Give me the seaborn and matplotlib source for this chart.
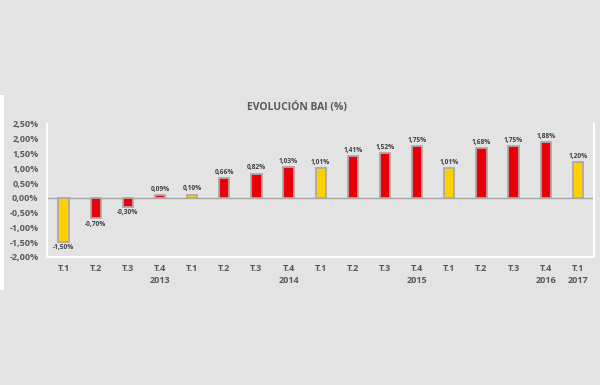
import pandas as pd
import matplotlib.pyplot as plt
import matplotlib.patches as mpatches
import seaborn as sns

# Datos del gráfico
trimestres = ['T.1', 'T.2', 'T.3', 'T.4', 'T.1', 'T.2', 'T.3', 'T.4', 'T.1',
              'T.2', 'T.3', 'T.4', 'T.1', 'T.2', 'T.3', 'T.4', 'T.1']
anios = ['', '', '', '2013', '', '', '', '2014', '', '', '', '2015',
         '', '', '', '2016', '2017']
bai = [-1.50, -0.70, -0.30, 0.09, 0.10, 0.66, 0.82, 1.03, 1.01,
       1.41, 1.52, 1.75, 1.01, 1.68, 1.75, 1.88, 1.20]

df = pd.DataFrame({'pos': range(len(bai)), 'bai': bai, 'trim': trimestres})
df['tipo'] = df['trim'].apply(lambda t: 'T1' if t == 'T.1' else 'resto')

fondo = '#e3e3e3'
texto = '#595959'

sns.set_theme(style='white')
plt.rcParams['font.family'] = ['Open Sans', 'DejaVu Sans']

fig = plt.figure(figsize=(6, 3.85), dpi=100, facecolor=fondo)
ax = fig.add_axes([0.078, 0.333, 0.912, 0.345])
ax.set_facecolor(fondo)

# franja blanca a la izquierda
fig.patches.append(mpatches.Rectangle((0, 0.247), 0.007, 0.506, transform=fig.transFigure,
                                      facecolor='white', edgecolor='none', zorder=0))

sns.barplot(data=df, x='pos', y='bai', hue='tipo', dodge=False, legend=False,
            palette={'T1': '#ffd000', 'resto': '#e8000b'}, saturation=1, width=0.32,
            edgecolor='#b0a8a8', linewidth=1.3, ax=ax, zorder=3)

ax.axhline(0, color='#a6a6a6', lw=1.0, zorder=2)

for i, v in enumerate(bai):
    etiqueta = f'{v:.2f}%'.replace('.', ',')
    if v >= 0:
        ax.text(i, v + 0.08, etiqueta, ha='center', va='bottom', fontsize=4.8,
                color='#404040', fontweight='bold')
    else:
        ax.text(i, v - 0.08, etiqueta, ha='center', va='top', fontsize=4.8,
                color='#404040', fontweight='bold')

ax.set_xlim(-0.52, 16.5)
ax.set_ylim(-2.0, 2.5)
ax.set_yticks([-2.0, -1.5, -1.0, -0.5, 0, 0.5, 1.0, 1.5, 2.0, 2.5])
ax.set_yticklabels([f'{t:.2f}%'.replace('.', ',') for t in ax.get_yticks()],
                   fontsize=6.5, color=texto, fontweight='bold')
ax.set_xticks(range(len(bai)))
ax.set_xticklabels([t if a == '' else f'{t}\n{a}' for t, a in zip(trimestres, anios)],
                   fontsize=6.5, color=texto, fontweight='bold', linespacing=1.4, va='top')
ax.tick_params(axis='both', length=0)
ax.tick_params(axis='x', pad=5)
ax.tick_params(axis='y', pad=6)
ax.set_xlabel('')
ax.set_ylabel('')

for lado in ['left', 'bottom', 'right']:
    ax.spines[lado].set_color('white')
    ax.spines[lado].set_linewidth(1.5)
ax.spines['top'].set_visible(False)

fig.text(0.495, 0.722, 'EVOLUCIÓN BAI (%)', ha='center', va='center', fontsize=7.5,
         color=texto, fontweight='bold')

plt.savefig('out.png', dpi=100, facecolor=fondo)
plt.close()
